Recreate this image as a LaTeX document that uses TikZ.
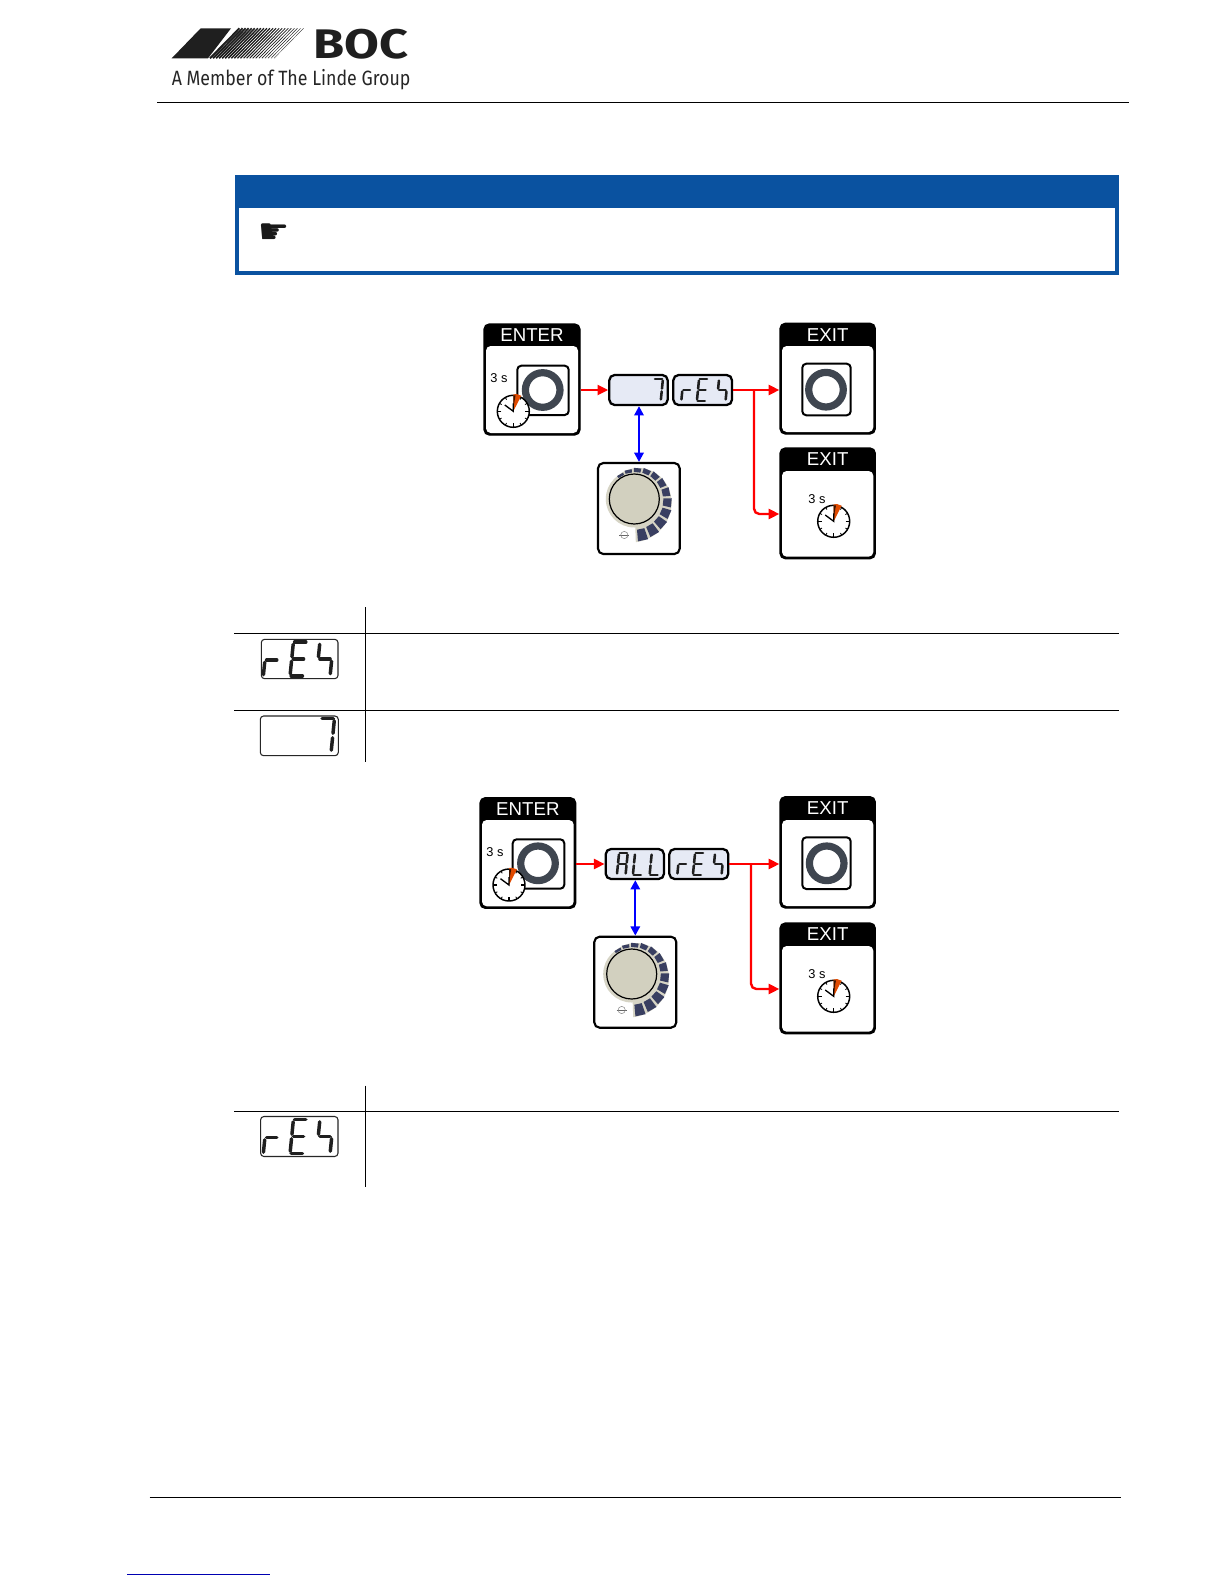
\documentclass[tikz,border=0pt]{standalone}
\usepackage{fontspec}
\setmainfont{Liberation Sans}
\newfontfamily\logofont[FakeStretch=1.22]{Fira Sans}
\newfontfamily\memberfont[FakeStretch=0.86]{Fira Sans}
\newfontfamily\handfont{DejaVu Sans}
\usetikzlibrary{fit,arrows.meta,calc}
\definecolor{bocblue}{HTML}{0A52A0}
\definecolor{ringcol}{HTML}{3F4650}
\definecolor{lcdfill}{HTML}{E6EAF5}
\definecolor{knobcol}{HTML}{D2D0BF}
\definecolor{bandcol}{HTML}{D6D4C5}
\definecolor{wedgecol}{HTML}{E04A00}
\tikzset{
  panelbox/.style={fill=black,draw=black,line width=1pt,rounded corners=4pt,inner sep=0pt},
  plainbox/.style={fill=white,draw=black,line width=1.6pt,rounded corners=4pt,inner sep=0pt},
  buttonbox/.style={fill=white,draw=black,line width=1.5pt,rounded corners=3pt,inner sep=0pt},
  lcdbox/.style={fill=lcdfill,draw=black,line width=1.7pt,rounded corners=4pt,inner sep=0pt},
  tablcd/.style={fill=white,draw=black!85,line width=.8pt,rounded corners=2.5pt,inner sep=0pt},
  headtext/.style={text=white,font=\fontsize{14}{15}\selectfont,inner sep=0pt},
  timetext/.style={font=\fontsize{9.6}{10}\selectfont,inner sep=0pt},
  redarrow/.style={draw=red,line width=1.8pt,rounded corners=4pt,-{Triangle[length=8pt,width=7.5pt]}},
  bluearrow/.style={draw=blue,line width=1.7pt,{Triangle[length=7pt,width=7pt]}-{Triangle[length=7pt,width=7pt]}},
  ruleline/.style={draw=black,line width=.75pt},
}
% segments of a seven-segment digit
\def\sega{(-5,-15)--(5,-15)}
\def\segb{(6,-13)--(6,-2)}
\def\segc{(6,2)--(6,13)}
\def\segd{(-5,15)--(5,15)}
\def\sege{(-6,2)--(-6,13)}
\def\segf{(-6,-13)--(-6,-2)}
\def\segg{(-4.5,0)--(4.5,0)}
\newcommand{\segdigit}[5]{%
  \begin{scope}[shift={(#1,#2)},scale=#3,xslant=0.1]
    \foreach \s in {#5}{\draw[line width=#4,line cap=round,color=black!88] \csname seg\s\endcsname;}
  \end{scope}}
\newcommand{\panelbox}[7]{% name x1 y1 x2 y2 headerbottom text
  \node[panelbox,fit={(#2,#3)(#4,#5)}] (#1) {};
  \fill[white,rounded corners=3.5pt] (#2+2,#6) rectangle (#4-2,#5-2);
  \node[headtext] (#1head) at ({(#2+#4)/2},{(#3+#6)/2}) {#7};}
\newcommand{\ringbutton}[7]{% name x1 y1 x2 y2 cx cy
  \node[buttonbox,fit={(#2,#3)(#4,#5)}] (#1) {};
  \draw[ringcol,line width=5.4pt] (#6,#7) circle[radius=17.3];}
\newcommand{\clockface}[2]{%
  \begin{scope}[shift={(#1,#2)}]
    \filldraw[fill=white,draw=black,line width=1.1pt] (0,0) circle[radius=16];
    \fill[wedgecol] (0,0)--(-90:17)--(-78:17.5)--(-63:17.5)--cycle;
    \fill[black!75!wedgecol] (0,-3)--(-90:16)--(-82:16)--cycle;
    \foreach \a in {-60,-30,30,60,120,150,210,240}{\draw[line width=.6pt] (\a:13.5)--(\a:16);}
    \foreach \a in {0,90,180}{\draw[line width=1.1pt] (\a:12)--(\a:16);}
    \draw[line width=1pt] (-8.5,-6.3)--(0,0)--(0,-8);
  \end{scope}}
\newcommand{\knobdial}[2]{%
  \begin{scope}[shift={(#1,#2)}]
    \fill[bandcol] (0,0) circle[radius=28.5];
    \fill[bandcol] plot[domain=88:-130,samples=40] (\x:{28+15*(\x+130)/215}) -- (0,0) -- cycle;
    \foreach \a in {78,60,42,24,6,-12,-30,-48,-66,-84,-102,-120}{
      \pgfmathsetmacro\ri{26+5*(\a+130)/215}
      \pgfmathsetmacro\ro{28+15*(\a+130)/215}
      \fill[ringcol!90!blue] (\a-7:\ri)--(\a+7:\ri)--(\a+7:\ro)--(\a-7:\ro)--cycle;}
    \filldraw[fill=knobcol,draw=black,line width=.9pt] (0,0) circle[radius=25];
    \draw[black!60,line width=.5pt] (-15,36)--(-5,36);
    \draw[black!45,line width=.4pt] (-10,36) circle[radius=3.6];
  \end{scope}}
\begin{document}
\begin{tikzpicture}[x=.75pt,y=-.75pt]
\useasboundingbox (0,0) rectangle (1224,1584);
\fill[white] (0,0) rectangle (1224,1584);

% logo
\fill[black!88] (171.7,58.3)--(208,58.3)--(231,28.3)--(200.7,28.3)--cycle;
\foreach \i in {0,...,21}{
  \pgfmathsetmacro\xx{210+3.05*\i}
  \pgfmathsetmacro\lw{1.5-0.06*\i}
  \draw[black!88,line width=\lw pt] (\xx,58.3)--(\xx+29.5,28.3);}
\node[anchor=base west,inner sep=0pt,font=\logofont\bfseries\fontsize{31}{32}\selectfont,text=black!88] (boc) at (313,58.3) {BOC};
\node[anchor=base west,inner sep=0pt,font=\memberfont\fontsize{15.5}{16}\selectfont,text=black!85] (member) at (171.5,85.5) {A Member of The Linde Group};
\coordinate (topl) at (157,102.5);
\coordinate (topr) at (1129,102.5);
\draw[ruleline] (topl)--(topr);

% notice box
\fill[bocblue] (235,175) rectangle (1119,275);
\fill[white] (239,208) rectangle (1115,271);
\node[font=\handfont\fontsize{26}{27}\selectfont,inner sep=0pt,text=black!90] (hand) at (274,234) {☛};

% first diagram
\panelbox{enterA}{484}{324}{580}{435}{346}{ENTER}
\ringbutton{btnA}{517.3}{365.7}{568.7}{415}{542.7}{390}
\node[timetext] (tA) at (499,378) {3 s};
\clockface{513.3}{411.3}
\panelbox{exitAa}{780}{323.3}{875.3}{434}{346}{EXIT}
\ringbutton{btnAa}{802.3}{363.7}{850.7}{415.3}{826}{389.7}
\panelbox{exitAb}{780}{448}{875.3}{558.7}{471}{EXIT}
\node[timetext] (tAb) at (817,498.7) {3 s};
\clockface{833.7}{521.3}
\node[lcdbox,fit={(609.3,375)(667.7,405)}] (numA) {};
\segdigit{657.5}{390}{.72}{1.9pt}{a,b,c}
\node[lcdbox,fit={(673.3,375)(732,405)}] (revA) {};
\segdigit{686.7}{390}{.72}{1.9pt}{e,g}
\segdigit{702.3}{390}{.72}{1.9pt}{a,f,g,e,d}
\segdigit{722.3}{390}{.72}{1.9pt}{f,g,c}
\node[plainbox,fit={(598,463)(679.7,554)}] (knobA) {};
\knobdial{634.3}{499}
\coordinate (branchA) at (754,389.5);
\draw[redarrow] (enterA.east |- numA.west) -- (numA.west);
\draw[redarrow] (revA.east) -- (exitAa.west |- revA.east);
\draw[redarrow] (branchA) |- (exitAb.west |- 0,514);
\draw[bluearrow] (numA.south -| 639,0) -- (knobA.north -| 639,0);

% first table
\coordinate (ta1) at (365.5,607);
\coordinate (ta2) at (365.5,761.7);
\coordinate (ta3) at (234,633.5);
\coordinate (ta4) at (1118.5,633.5);
\coordinate (ta5) at (234,710.5);
\coordinate (ta6) at (1118.5,710.5);
\draw[ruleline] (ta1)--(ta2);
\draw[ruleline] (ta3)--(ta4);
\draw[ruleline] (ta5)--(ta6);
\node[tablcd,fit={(261.3,639.3)(338,678.7)}] (tabRevA) {};
\segdigit{271.7}{660}{1.13}{2.6pt}{e,g}
\segdigit{298.5}{659}{1.13}{2.6pt}{a,f,g,e,d}
\segdigit{325}{659}{1.13}{2.6pt}{f,g,c}
\node[tablcd,fit={(260.3,716)(338.3,755.7)}] (tabNum) {};
\segdigit{326}{735.5}{1.13}{2.6pt}{a,b,c}

% second diagram
\panelbox{enterB}{480}{797.7}{575.7}{908.3}{820}{ENTER}
\ringbutton{btnB}{512.7}{839.3}{564.3}{888.7}{538}{863.3}
\node[timetext] (tB) at (495,852) {3 s};
\clockface{509}{885}
\panelbox{exitBa}{780}{796.7}{875.3}{908}{820}{EXIT}
\ringbutton{btnBa}{802.3}{837.3}{850.7}{889}{826.7}{863.3}
\panelbox{exitBb}{780}{923}{875.3}{1033.7}{946}{EXIT}
\node[timetext] (tBb) at (817,973.7) {3 s};
\clockface{833.7}{996.3}
\node[lcdbox,fit={(605.7,849)(664,879)}] (allB) {};
\segdigit{622.3}{864}{.72}{1.9pt}{a,b,c,e,f,g}
\segdigit{638.3}{864}{.72}{1.9pt}{f,e,d}
\segdigit{655}{864}{.72}{1.9pt}{f,e,d}
\node[lcdbox,fit={(669.3,849)(728.3,879)}] (revB) {};
\segdigit{682.7}{864}{.72}{1.9pt}{e,g}
\segdigit{698.3}{864}{.72}{1.9pt}{a,f,g,e,d}
\segdigit{718.3}{864}{.72}{1.9pt}{f,g,c}
\node[plainbox,fit={(594.3,936.7)(676.3,1027.7)}] (knobB) {};
\knobdial{631.7}{974}
\coordinate (branchB) at (751,864);
\draw[redarrow] (enterB.east |- allB.west) -- (allB.west);
\draw[redarrow] (revB.east) -- (exitBa.west |- revB.east);
\draw[redarrow] (branchB) |- (exitBb.west |- 0,989);
\draw[bluearrow] (allB.south -| 635.3,0) -- (knobB.north -| 635.3,0);

% second table
\coordinate (tb1) at (365.5,1085.6);
\coordinate (tb2) at (365.5,1187);
\coordinate (tb3) at (234,1111.5);
\coordinate (tb4) at (1118.5,1111.5);
\draw[ruleline] (tb1)--(tb2);
\draw[ruleline] (tb3)--(tb4);
\node[tablcd,fit={(260.6,1116.5)(338,1156.5)}] (tabRevB) {};
\segdigit{271.7}{1137.5}{1.13}{2.6pt}{e,g}
\segdigit{298.5}{1136.5}{1.13}{2.6pt}{a,f,g,e,d}
\segdigit{325}{1136.5}{1.13}{2.6pt}{f,g,c}

% footer
\coordinate (foot1) at (149.5,1497.5);
\coordinate (foot2) at (1121,1497.5);
\draw[ruleline] (foot1)--(foot2);
\coordinate (link1) at (127,1574.5);
\coordinate (link2) at (270,1574.5);
\draw[draw=blue!70!black,line width=.75pt] (link1)--(link2);
\end{tikzpicture}
\end{document}
